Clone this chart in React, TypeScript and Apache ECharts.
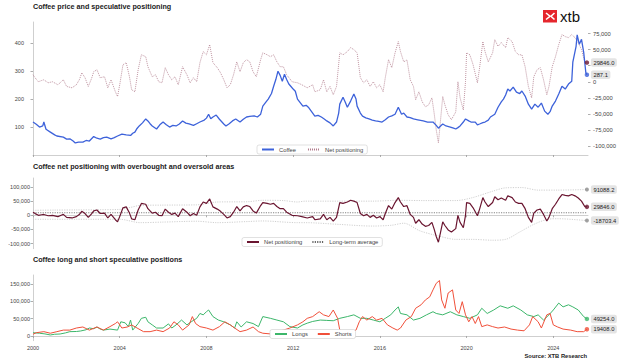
import React, { useEffect, useRef } from 'react';
import * as echarts from 'echarts';

// ---- Data (year, value) ----
const coffeePrice: [number, number][] = [
  [2000.0, 118], [2000.15, 110], [2000.3, 100], [2000.45, 104], [2000.5, 118], [2000.6, 92], [2000.8, 82],
  [2001.0, 72], [2001.1, 68], [2001.4, 64], [2001.55, 57], [2001.7, 58], [2001.85, 50], [2001.95, 43],
  [2002.1, 46], [2002.3, 46], [2002.45, 52], [2002.6, 50], [2002.8, 66], [2002.95, 60], [2003.1, 57],
  [2003.25, 62], [2003.4, 64], [2003.6, 58], [2003.75, 62], [2003.9, 68], [2004.1, 75], [2004.3, 72],
  [2004.5, 70], [2004.6, 78], [2004.7, 82], [2004.8, 95], [2004.9, 104], [2005.05, 115], [2005.2, 129],
  [2005.3, 122], [2005.4, 112], [2005.5, 104], [2005.7, 93], [2005.85, 108], [2006.0, 118], [2006.15, 108],
  [2006.3, 100], [2006.45, 106], [2006.6, 104], [2006.75, 111], [2006.9, 122], [2007.05, 114], [2007.2, 111],
  [2007.4, 106], [2007.55, 112], [2007.7, 118], [2007.9, 125], [2008.0, 132], [2008.1, 146], [2008.2, 130],
  [2008.3, 136], [2008.45, 143], [2008.6, 128], [2008.8, 111], [2008.9, 104], [2009.05, 112], [2009.2, 122],
  [2009.35, 129], [2009.55, 118], [2009.7, 128], [2009.85, 136], [2010.0, 138], [2010.2, 140], [2010.35, 136],
  [2010.5, 146], [2010.6, 175], [2010.75, 190], [2010.85, 200], [2011.0, 220], [2011.1, 246], [2011.2, 270],
  [2011.3, 300], [2011.4, 285], [2011.5, 264], [2011.6, 289], [2011.7, 270], [2011.8, 254], [2011.9, 245],
  [2012.0, 236], [2012.1, 228], [2012.2, 200], [2012.35, 185], [2012.45, 175], [2012.6, 178], [2012.7, 171],
  [2012.85, 155], [2013.0, 139], [2013.15, 142], [2013.3, 136], [2013.45, 128], [2013.55, 122], [2013.7, 115],
  [2013.85, 104], [2014.0, 118], [2014.1, 150], [2014.15, 182], [2014.3, 207], [2014.4, 190], [2014.5, 171],
  [2014.65, 193], [2014.8, 218], [2014.9, 200], [2014.95, 175], [2015.1, 150], [2015.2, 139], [2015.35, 133],
  [2015.5, 129], [2015.65, 125], [2015.8, 122], [2015.95, 120], [2016.1, 118], [2016.25, 126], [2016.4, 136],
  [2016.55, 140], [2016.7, 146], [2016.85, 171], [2017.0, 146], [2017.1, 150], [2017.25, 136], [2017.4, 134],
  [2017.55, 129], [2017.75, 126], [2018.0, 122], [2018.2, 118], [2018.45, 118], [2018.6, 106], [2018.7, 96],
  [2018.8, 104], [2018.9, 111], [2019.05, 104], [2019.25, 100], [2019.4, 96], [2019.5, 93], [2019.6, 98],
  [2019.7, 104], [2019.85, 118], [2019.95, 129], [2020.1, 122], [2020.2, 118], [2020.4, 118], [2020.5, 108],
  [2020.6, 111], [2020.75, 116], [2020.85, 118], [2021.0, 125], [2021.1, 136], [2021.3, 146], [2021.45, 171],
  [2021.6, 190], [2021.7, 200], [2021.8, 215], [2021.9, 236], [2022.0, 229], [2022.15, 243], [2022.3, 225],
  [2022.45, 220], [2022.55, 229], [2022.7, 211], [2022.85, 182], [2023.0, 164], [2023.15, 182], [2023.3, 171],
  [2023.45, 186], [2023.6, 157], [2023.75, 146], [2023.85, 155], [2023.95, 175], [2024.1, 193], [2024.25, 218],
  [2024.4, 246], [2024.55, 236], [2024.7, 254], [2024.85, 264], [2024.9, 332], [2025.05, 389], [2025.1, 430],
  [2025.2, 396], [2025.3, 414], [2025.4, 368], [2025.45, 332], [2025.5, 295], [2025.55, 287.1],
];

const netPositioning: [number, number][] = [
  [2000.0, 10900], [2000.1, 6000], [2000.25, 0], [2000.4, 2000], [2000.5, 3000], [2000.7, -1600], [2000.9, 0],
  [2001.15, -4700], [2001.3, 0], [2001.4, 3100], [2001.55, -7300], [2001.8, -9400], [2002.0, -4700], [2002.15, 4000],
  [2002.25, 14000], [2002.4, 6300], [2002.55, -7300], [2002.7, 5000], [2002.8, 15600], [2002.95, 18700],
  [2003.1, 6300], [2003.3, 7800], [2003.45, -9400], [2003.6, 3100], [2003.8, -15600], [2003.9, -23000],
  [2004.0, -4700], [2004.15, 26500], [2004.3, 29700], [2004.45, 7800], [2004.55, -12500], [2004.7, -15600],
  [2004.85, 18700], [2005.0, 42000], [2005.2, 39000], [2005.3, 23400], [2005.5, 7800], [2005.65, 10900],
  [2005.8, 0], [2005.95, -1600], [2006.1, 21900], [2006.25, 10900], [2006.4, 3100], [2006.55, 7800],
  [2006.7, -4700], [2006.9, 23400], [2007.1, 10900], [2007.25, -1600], [2007.4, 6300], [2007.55, 0],
  [2007.7, 29700], [2007.85, 46900], [2008.0, 42000], [2008.15, 57800], [2008.3, 29700], [2008.5, 21900],
  [2008.65, 14000], [2008.8, 3100], [2008.95, -9400], [2009.1, -4700], [2009.25, 10900], [2009.4, 31000],
  [2009.55, 15600], [2009.7, 29700], [2009.85, 34400], [2010.0, 31000], [2010.15, 15600], [2010.3, 7800],
  [2010.5, 34400], [2010.6, 45000], [2010.8, 42000], [2010.95, 39000], [2011.1, 42000], [2011.25, 31000],
  [2011.4, 23400], [2011.55, 23400], [2011.7, 10900], [2011.95, 0], [2012.2, -1600], [2012.4, -4700],
  [2012.65, -9400], [2012.9, -4700], [2013.0, -15600], [2013.25, -12500], [2013.4, 3100], [2013.55, -15600],
  [2013.7, -7300], [2013.85, -20300], [2014.0, -7300], [2014.15, 45000], [2014.3, 42000], [2014.5, 46900],
  [2014.65, 53100], [2014.8, 50000], [2014.95, 45000], [2015.1, 6300], [2015.25, -1600], [2015.4, 3100],
  [2015.55, -7300], [2015.7, 0], [2015.85, -9400], [2016.0, -4700], [2016.15, -15600], [2016.25, 6300],
  [2016.4, 34400], [2016.55, 21900], [2016.7, 45000], [2016.85, 62500], [2016.95, 47000], [2017.1, 31000],
  [2017.25, 34000], [2017.4, 3100], [2017.55, -7300], [2017.65, -28000], [2017.8, -15600], [2017.95, -31000],
  [2018.1, -39000], [2018.25, -36000], [2018.4, -25000], [2018.5, -48000], [2018.6, -75000], [2018.7, -95000],
  [2018.8, -59000], [2018.9, -23000], [2019.0, -36000], [2019.15, -51500], [2019.3, -59000], [2019.5, -47000],
  [2019.6, 0], [2019.7, -25000], [2019.85, -44000], [2019.95, 0], [2020.0, 45000], [2020.15, 42000],
  [2020.3, 26500], [2020.5, -1600], [2020.6, 21900], [2020.75, 62500], [2020.85, 47000], [2021.0, 31000],
  [2021.2, 45000], [2021.3, 65600], [2021.45, 55000], [2021.6, 61000], [2021.8, 53000], [2021.9, 68700],
  [2022.1, 62500], [2022.25, 47000], [2022.4, 42000], [2022.55, 42000], [2022.7, 23400], [2022.85, -7300],
  [2023.0, -25000], [2023.1, 7800], [2023.25, 18700], [2023.4, 21900], [2023.55, 3100], [2023.7, -20300],
  [2023.8, -7300], [2023.95, 23400], [2024.1, 39000], [2024.25, 57800], [2024.4, 73400], [2024.55, 70300],
  [2024.7, 68700], [2024.85, 73400], [2025.0, 68700], [2025.15, 61000], [2025.3, 50000], [2025.45, 31000],
  [2025.55, 29846],
];

const longs: [number, number][] = [
  [2000.0, 9500], [2000.3, 8000], [2000.55, 6000], [2000.8, 3000], [2001.0, 5000], [2001.25, 5800], [2001.5, 9000],
  [2001.7, 12500], [2002.0, 13000], [2002.2, 14500], [2002.45, 18000], [2002.6, 23000], [2002.8, 21000],
  [2002.95, 26000], [2003.1, 20000], [2003.25, 17000], [2003.55, 20000], [2003.9, 17000], [2004.05, 41000],
  [2004.25, 38000], [2004.4, 27000], [2004.5, 46000], [2004.6, 17000], [2004.85, 36000], [2005.0, 51000],
  [2005.2, 54000], [2005.3, 41000], [2005.5, 32000], [2005.7, 23000], [2006.0, 23000], [2006.25, 35000],
  [2006.4, 23000], [2006.6, 32000], [2006.85, 46000], [2007.1, 32000], [2007.3, 41000], [2007.55, 51000],
  [2007.7, 65000], [2007.85, 61000], [2008.0, 70000], [2008.1, 75000], [2008.3, 56000], [2008.55, 46000],
  [2008.8, 41000], [2009.1, 32000], [2009.3, 23000], [2009.4, 41000], [2009.6, 26000], [2009.85, 41000],
  [2010.15, 36000], [2010.4, 27000], [2010.6, 56000], [2010.95, 51000], [2011.25, 46000], [2011.55, 41000],
  [2011.85, 27000], [2012.2, 23000], [2012.45, 32000], [2012.65, 37000], [2012.9, 42000], [2013.25, 46000],
  [2013.55, 45000], [2013.85, 44000], [2014.15, 51000], [2014.5, 56000], [2014.8, 61000], [2015.1, 51000],
  [2015.4, 51000], [2015.7, 46000], [2016.0, 41000], [2016.25, 51000], [2016.5, 61000], [2016.7, 75000],
  [2016.85, 84000], [2016.95, 65000], [2017.25, 61000], [2017.55, 46000], [2017.85, 51000], [2018.15, 61000],
  [2018.45, 70000], [2018.6, 65000], [2018.9, 61000], [2019.25, 70000], [2019.55, 61000], [2019.85, 56000],
  [2020.15, 51000], [2020.5, 61000], [2020.7, 80000], [2020.95, 65000], [2021.25, 75000], [2021.55, 87000],
  [2021.9, 80000], [2022.15, 87000], [2022.5, 75000], [2022.8, 61000], [2023.1, 56000], [2023.3, 61000],
  [2023.55, 46000], [2023.8, 61000], [2024.0, 75000], [2024.25, 95000], [2024.45, 84000], [2024.7, 90000],
  [2024.9, 84000], [2025.15, 75000], [2025.4, 56000], [2025.55, 49254],
];

const shorts: [number, number][] = [
  [2000.0, 5000], [2000.15, 9500], [2000.5, 12500], [2000.8, 8000], [2001.1, 12500], [2001.4, 17000],
  [2001.7, 17000], [2002.0, 23000], [2002.3, 26000], [2002.6, 17000], [2002.95, 26000], [2003.25, 17000],
  [2003.55, 27000], [2003.8, 36000], [2003.9, 41000], [2004.1, 23000], [2004.35, 26000], [2004.55, 32000],
  [2004.8, 23000], [2005.1, 12500], [2005.4, 12500], [2005.7, 17000], [2006.0, 12500], [2006.3, 23000],
  [2006.5, 41000], [2006.7, 32000], [2006.9, 17000], [2007.2, 32000], [2007.35, 56000], [2007.5, 36000],
  [2007.7, 27000], [2008.0, 23000], [2008.3, 17000], [2008.6, 27000], [2008.85, 41000], [2009.1, 32000],
  [2009.3, 23000], [2009.55, 12500], [2009.85, 17000], [2010.15, 26000], [2010.4, 12500], [2010.6, 8000],
  [2010.95, 6000], [2011.25, 12500], [2011.55, 17000], [2011.85, 23000], [2012.2, 32000], [2012.45, 41000],
  [2012.65, 51000], [2012.9, 56000], [2013.2, 70000], [2013.4, 61000], [2013.65, 56000], [2013.85, 75000],
  [2014.05, 51000], [2014.15, 17000], [2014.4, 12500], [2014.65, 9500], [2014.9, 17000], [2015.05, 41000],
  [2015.2, 56000], [2015.4, 46000], [2015.65, 56000], [2015.85, 46000], [2016.1, 51000], [2016.35, 32000],
  [2016.6, 23000], [2016.8, 17000], [2016.95, 23000], [2017.2, 46000], [2017.45, 56000], [2017.65, 80000],
  [2017.9, 90000], [2018.1, 104000], [2018.3, 113000], [2018.45, 133000], [2018.6, 152000], [2018.75, 160000],
  [2018.85, 104000], [2019.0, 80000], [2019.15, 124000], [2019.35, 133000], [2019.5, 75000], [2019.65, 65000],
  [2019.8, 99000], [2019.95, 61000], [2020.1, 41000], [2020.25, 56000], [2020.4, 36000], [2020.55, 56000],
  [2020.7, 27000], [2020.95, 32000], [2021.2, 27000], [2021.45, 23000], [2021.75, 26000], [2022.05, 20000],
  [2022.35, 17000], [2022.65, 15000], [2022.9, 32000], [2023.05, 56000], [2023.3, 41000], [2023.45, 23000],
  [2023.7, 61000], [2023.85, 65000], [2024.0, 32000], [2024.2, 26000], [2024.45, 20000], [2024.8, 17000],
  [2025.1, 12500], [2025.4, 12500], [2025.55, 19408],
];

const upperBand: [number, number][] = [
  [2000.0, 17600], [2001.0, 18500], [2002.0, 19000], [2003.0, 19500], [2004.0, 21000], [2004.5, 28000],
  [2004.95, 35000], [2006.0, 36000], [2007.55, 37000], [2008.5, 47000], [2009.9, 48000], [2010.6, 53000],
  [2011.55, 52000], [2012.2, 47000], [2012.55, 50000], [2014.1, 50000], [2015.65, 50000], [2016.85, 53000],
  [2018.0, 52000], [2019.5, 52000], [2020.25, 62000], [2021.2, 85000], [2021.8, 97000], [2022.55, 98000],
  [2023.3, 89000], [2024.2, 89000], [2025.55, 91088.2],
];

const lowerBand: [number, number][] = [
  [2000.0, -14000], [2002.0, -14000], [2004.0, -14000], [2004.95, -26000], [2006.0, -24000], [2007.55, -21000],
  [2008.5, -26000], [2009.9, -22000], [2010.6, -20000], [2012.2, -26000], [2012.55, -26000], [2014.1, -32000],
  [2015.65, -38000], [2016.55, -35000], [2017.1, -28000], [2017.85, -55000], [2018.7, -73000], [2019.5, -85000],
  [2020.25, -85000], [2021.2, -88000], [2021.8, -85000], [2022.45, -59000], [2023.1, -32000], [2023.75, -14000],
  [2024.2, -12000], [2025.55, -18703.4],
];

const longTermAverage = 9000;

const yearTicks = [2000, 2004, 2008, 2012, 2016, 2020, 2024];
const priceTicks = [100, 200, 300, 400];
const netTicksRight = [-100000, -75000, -50000, -25000, 0, 25000, 50000, 75000];
// 25,000 sits under the 29846.0 end-label box in the reference, so no visible label there
const netLabelsRight = [-100000, -75000, -50000, -25000, 0, 50000, 75000];
const netTicks = [-100000, -50000, 0, 50000, 100000];
const positionTicks = [0, 50000, 100000, 150000];

const titles = [
  'Coffee price and speculative positioning',
  'Coffee net positioning with overbought and oversold areas',
  'Coffee long and short speculative positions',
];

const FONT = '"Liberation Sans", Arial, sans-serif';
const last = (a: [number, number][]) => a[a.length - 1];
const fmtNum = (v: number) => Number(v).toLocaleString('en-US');

const endLabel = {
  show: true,
  formatter: (p: any) => Number(p.value[1]).toFixed(1),
  distance: 4,
  fontSize: 5.8,
  fontFamily: FONT,
  color: '#222',
  backgroundColor: '#e4e4e4',
  padding: [1.5, 2.5, 1, 2.5],
  borderRadius: 2,
};

function xAxis(gridIndex: number, showLabels: boolean) {
  return {
    type: 'value',
    gridIndex,
    min: 2000,
    max: 2025.6,
    axisLine: { show: true, lineStyle: { color: '#cfcfcf', width: 1 } },
    axisTick: { show: true, length: 2, customValues: yearTicks, lineStyle: { color: '#999', width: 0.8 } },
    axisLabel: {
      show: showLabels,
      customValues: yearTicks,
      formatter: (v: number) => String(v),
      fontSize: 5.5,
      color: '#444',
      margin: 4,
      fontFamily: FONT,
    },
    splitLine: { show: false },
  };
}

function yAxis(
  gridIndex: number,
  min: number,
  max: number,
  ticks: number[],
  labels: number[],
  position: 'left' | 'right',
  margin: number,
  showLine: boolean,
  fontSize: number
) {
  return {
    type: 'value',
    gridIndex,
    position,
    min,
    max,
    axisLine: { show: showLine, onZero: false, lineStyle: { color: '#cfcfcf', width: 1 } },
    axisTick: { show: true, length: 2.5, customValues: ticks, lineStyle: { color: '#999', width: 0.8 } },
    axisLabel: {
      customValues: labels,
      formatter: (v: number) => fmtNum(v),
      fontSize,
      color: '#444',
      margin,
      fontFamily: FONT,
    },
    splitLine: { show: false },
  };
}

const legendBase = {
  orient: 'horizontal',
  itemWidth: 12,
  itemHeight: 6,
  itemGap: 10,
  padding: [1.5, 4, 1.5, 4],
  textStyle: { fontSize: 5.8, color: '#444', fontFamily: FONT },
  itemStyle: { opacity: 0 },
  borderColor: '#cccccc',
  borderWidth: 0.6,
  borderRadius: 2,
  backgroundColor: '#ffffff',
  selectedMode: false,
};

export default function App() {
  const ref = useRef<HTMLDivElement>(null);

  useEffect(() => {
    if (!ref.current) return;
    const chart = echarts.init(ref.current, null, { renderer: 'svg' });

    const option: any = {
      animation: false,
      backgroundColor: '#ffffff',
      textStyle: { fontFamily: FONT },
      grid: [
        { left: 33, right: 33, top: 22, height: 133 },
        { left: 33, right: 33, top: 178, height: 70.7 },
        { left: 33, right: 33, top: 275, height: 65.7 },
      ],
      xAxis: [xAxis(0, false), xAxis(1, false), xAxis(2, true)],
      yAxis: [
        yAxis(0, 0, 476, priceTicks, priceTicks, 'left', 9, true, 5.5),
        yAxis(0, -114000, 93000, netTicksRight, netLabelsRight, 'right', 5, false, 5.8),
        yAxis(1, -118000, 131800, netTicks, netTicks, 'left', 3, true, 5.5),
        yAxis(2, -13560, 175950, positionTicks, positionTicks, 'left', 3, true, 5.5),
      ],
      legend: [
        { ...legendBase, left: 257, top: 145, itemGap: 11, data: ['Coffee', 'Net positioning'] },
        {
          ...legendBase,
          left: 242,
          top: 237.5,
          itemGap: 9,
          data: ['net2', 'Long-term average'],
          formatter: (name: string) => (name === 'net2' ? 'Net positioning' : name),
        },
        { ...legendBase, left: 270, top: 329.5, itemGap: 9, data: ['Longs', 'Shorts'] },
      ],
      graphic: [
        { type: 'text', left: 33, top: 3, style: { text: titles[0], font: `bold 7.2px ${FONT}`, fill: '#222' } },
        { type: 'text', left: 33, top: 163, style: { text: titles[1], font: `bold 7.2px ${FONT}`, fill: '#222' } },
        { type: 'text', left: 33, top: 255.5, style: { text: titles[2], font: `bold 7.2px ${FONT}`, fill: '#222' } },
        {
          type: 'text',
          right: 34,
          top: 352.5,
          style: { text: 'Source: XTB Research', font: `bold 5.8px ${FONT}`, fill: '#222' },
        },
        {
          type: 'group',
          left: 543,
          top: 9,
          children: [
            { type: 'rect', shape: { x: 0, y: 0, width: 14, height: 12.5 }, style: { fill: '#e5262d' } },
            {
              type: 'polyline',
              shape: { points: [[3, 3], [7, 6.25], [3, 9.5]] },
              style: { stroke: '#fff', lineWidth: 1.6, fill: 'none' },
            },
            {
              type: 'polyline',
              shape: { points: [[11.5, 3], [8, 6.25], [11.5, 9.5]] },
              style: { stroke: '#fff', lineWidth: 1.6, fill: 'none' },
            },
            {
              type: 'text',
              x: 17,
              y: 6.5,
              style: { text: 'xtb', font: `15px ${FONT}`, fill: '#111', verticalAlign: 'middle' },
            },
          ],
        },
      ],
      series: [
        // Panel 1
        {
          name: 'Net positioning',
          type: 'line',
          xAxisIndex: 0,
          yAxisIndex: 1,
          data: netPositioning,
          symbol: 'none',
          color: '#b07a8a',
          lineStyle: { color: '#b07a8a', width: 0.8, type: [1, 1] },
          endLabel,
          z: 2,
        },
        {
          name: 'Coffee',
          type: 'line',
          xAxisIndex: 0,
          yAxisIndex: 0,
          data: coffeePrice,
          symbol: 'none',
          color: '#3d62da',
          lineStyle: { color: '#3d62da', width: 1.3 },
          endLabel,
          z: 3,
        },
        {
          type: 'scatter',
          xAxisIndex: 0,
          yAxisIndex: 1,
          data: [last(netPositioning)],
          symbolSize: 4.5,
          itemStyle: { color: '#6a1530' },
          silent: true,
          z: 5,
        },
        {
          type: 'scatter',
          xAxisIndex: 0,
          yAxisIndex: 0,
          data: [last(coffeePrice)],
          symbolSize: 4.5,
          itemStyle: { color: '#3d62da' },
          silent: true,
          z: 5,
        },
        // Panel 2
        {
          name: 'Upper band',
          type: 'line',
          xAxisIndex: 1,
          yAxisIndex: 2,
          data: upperBand,
          symbol: 'none',
          smooth: 0.3,
          lineStyle: { color: '#c4c4c4', width: 0.8, type: [1.2, 1.2] },
          endLabel,
          z: 1,
        },
        {
          name: 'Lower band',
          type: 'line',
          xAxisIndex: 1,
          yAxisIndex: 2,
          data: lowerBand,
          symbol: 'none',
          smooth: 0.3,
          lineStyle: { color: '#c4c4c4', width: 0.8, type: [1.2, 1.2] },
          endLabel,
          z: 1,
        },
        {
          name: 'Long-term average',
          type: 'line',
          xAxisIndex: 1,
          yAxisIndex: 2,
          data: [
            [netPositioning[0][0], longTermAverage],
            [last(netPositioning)[0], longTermAverage],
          ],
          symbol: 'none',
          color: '#777',
          lineStyle: { color: '#666', width: 0.8, type: [1.2, 1.2] },
          z: 1,
        },
        {
          name: 'net2',
          type: 'line',
          xAxisIndex: 1,
          yAxisIndex: 2,
          data: netPositioning,
          symbol: 'none',
          color: '#6a1530',
          lineStyle: { color: '#6a1530', width: 1.2 },
          endLabel,
          z: 3,
        },
        {
          type: 'scatter',
          xAxisIndex: 1,
          yAxisIndex: 2,
          data: [last(upperBand), last(lowerBand)],
          symbolSize: 4,
          itemStyle: { color: '#8a8a8a' },
          silent: true,
          z: 5,
        },
        {
          type: 'scatter',
          xAxisIndex: 1,
          yAxisIndex: 2,
          data: [last(netPositioning)],
          symbolSize: 4.5,
          itemStyle: { color: '#6a1530' },
          silent: true,
          z: 5,
        },
        // Panel 3
        {
          name: 'Longs',
          type: 'line',
          xAxisIndex: 2,
          yAxisIndex: 3,
          data: longs,
          symbol: 'none',
          color: '#3cb66a',
          lineStyle: { color: '#3cb66a', width: 1 },
          endLabel,
          z: 2,
        },
        {
          name: 'Shorts',
          type: 'line',
          xAxisIndex: 2,
          yAxisIndex: 3,
          data: shorts,
          symbol: 'none',
          color: '#f0503a',
          lineStyle: { color: '#f0503a', width: 1 },
          endLabel,
          z: 3,
        },
        {
          type: 'scatter',
          xAxisIndex: 2,
          yAxisIndex: 3,
          data: [last(longs)],
          symbolSize: 4.5,
          itemStyle: { color: '#3cb66a' },
          silent: true,
          z: 5,
        },
        {
          type: 'scatter',
          xAxisIndex: 2,
          yAxisIndex: 3,
          data: [last(shorts)],
          symbolSize: 4.5,
          itemStyle: { color: '#f0503a' },
          silent: true,
          z: 5,
        },
      ],
    };

    chart.setOption(option);
    return () => chart.dispose();
  }, []);

  return (
    <div
      ref={ref}
      style={{ position: 'fixed', left: 0, top: 0, width: 621, height: 363, background: '#fff' }}
    />
  );
}
